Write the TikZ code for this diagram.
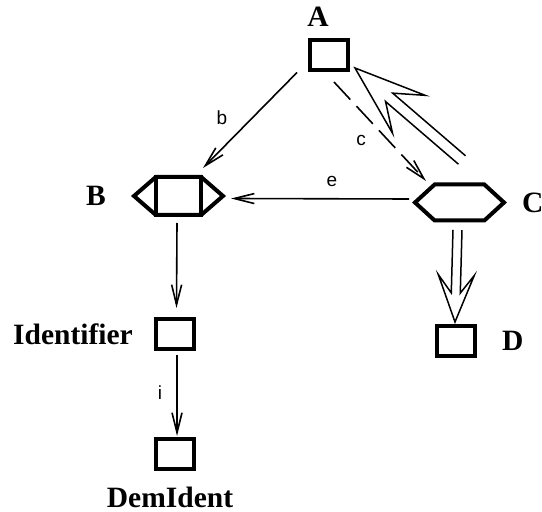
\documentclass[tikz,border=0pt]{standalone}
\usepackage{fontspec}
\setmainfont{Liberation Serif}
\newfontfamily\edgefont{Liberation Sans}
\usetikzlibrary{positioning,shapes.symbols,arrows.meta,calc}

\begin{document}
\begin{tikzpicture}[
    x=1pt, y=1pt,
    classbox/.style={
        rectangle,
        draw,
        line width=4pt,
        minimum width=38pt,
        minimum height=30pt,
        inner sep=0pt
    },
    hexbox/.style={
        signal,
        signal to=west and east,
        draw,
        line width=4pt,
        minimum width=89pt,
        inner sep=0pt
    },
    classname/.style={font=\bfseries\fontsize{29.5}{29.5}\selectfont, inner sep=0pt},
    edgelabel/.style={font=\edgefont\fontsize{19}{19}\selectfont, inner sep=0pt},
    arrow/.style={-{Straight Barb[length=20pt, width=10pt]}, line width=1.6pt},
    bigarrow/.style={line width=1.5pt, miter limit=20}
]
    \useasboundingbox (0,0) rectangle (542,512);

    % Classes
    \node[classbox] (A) at (328.5,456.5) {};
    \node[hexbox, minimum height=38pt, signal pointer angle=82] (B) at (178.5,316) {};
    \draw[line width=4pt] ([xshift=-22.5pt]B.north) -- ([xshift=-22.5pt]B.south)
        ([xshift=22.5pt]B.north) -- ([xshift=22.5pt]B.south);
    \node[hexbox, minimum height=36pt, signal pointer angle=85] (C) at (459.5,309.5) {};
    \node[classbox] (D) at (456,171) {};
    \node[classbox] (Identifier) at (175,177.5) {};
    \node[classbox] (DemIdent) at (175,58) {};

    % Names
    \node[classname, above=11.5pt of A, xshift=-10.5pt] (nameA) {A};
    \node[classname, left=25pt of B] (nameB) {B};
    \node[classname, right=15pt of C] (nameC) {C};
    \node[classname, right=25pt of D] (nameD) {D};
    \node[classname, left=21pt of Identifier] (nameIdentifier) {Identifier};
    \node[classname, below=16pt of DemIdent, xshift=-5pt] (nameDemIdent) {DemIdent};

    % Arrows
    \draw[arrow] ([xshift=-10.5pt]A.south west) -- ([xshift=24.5pt, yshift=7pt]B.north);
    \draw[arrow, dash pattern=on 24pt off 9pt] ([xshift=5.5pt, yshift=-9.5pt]A.south)
        -- ([xshift=-33.5pt, yshift=1.5pt]C.north);
    \draw[arrow] ([xshift=-3pt, yshift=3.5pt]C.west) -- ([xshift=5pt, yshift=-2.5pt]B.east);
    \draw[arrow] ([xshift=-1.5pt, yshift=-6pt]B.south) -- ([xshift=1.5pt, yshift=9.5pt]Identifier.north);
    \draw[arrow] ([xshift=2pt, yshift=-3.5pt]Identifier.south) -- ([xshift=2pt, yshift=1pt]DemIdent.north);

    % Double arrows
    \coordinate (CAfrom) at ([xshift=2.5pt, yshift=22.5pt]C.north);
    \coordinate (CAto) at ([xshift=5.5pt, yshift=4.5pt]A.south east);
    \draw[bigarrow] ($(CAfrom)!5.5pt!90:(CAto)$)
        -- ($(CAto)!45pt!(CAfrom)!5.5pt!90:(CAto)$)
        -- ($(CAto)!71pt!(CAfrom)!25pt!90:(CAto)$)
        -- (CAto)
        -- ($(CAto)!71pt!(CAfrom)!25pt!-90:(CAto)$)
        -- ($(CAto)!45pt!(CAfrom)!5.5pt!-90:(CAto)$)
        -- ($(CAfrom)!5.5pt!-90:(CAto)$);
    \coordinate (CDfrom) at ([xshift=-2pt, yshift=-7.5pt]C.south);
    \coordinate (CDto) at ([xshift=-1pt, yshift=2pt]D.north);
    \draw[bigarrow] ($(CDfrom)!4.5pt!90:(CDto)$)
        -- ($(CDto)!29pt!(CDfrom)!4.5pt!90:(CDto)$)
        -- ($(CDto)!47pt!(CDfrom)!18pt!90:(CDto)$)
        -- (CDto)
        -- ($(CDto)!47pt!(CDfrom)!18pt!-90:(CDto)$)
        -- ($(CDto)!29pt!(CDfrom)!4.5pt!-90:(CDto)$)
        -- ($(CDfrom)!4.5pt!-90:(CDto)$);

    % Labels
    \node[edgelabel] (labelb) at (222,394) {b};
    \node[edgelabel] (labelc) at (361,372) {c};
    \node[edgelabel] (labele) at (332,331) {e};
    \node[edgelabel] (labeli) at (160,119) {i};
\end{tikzpicture}
\end{document}
